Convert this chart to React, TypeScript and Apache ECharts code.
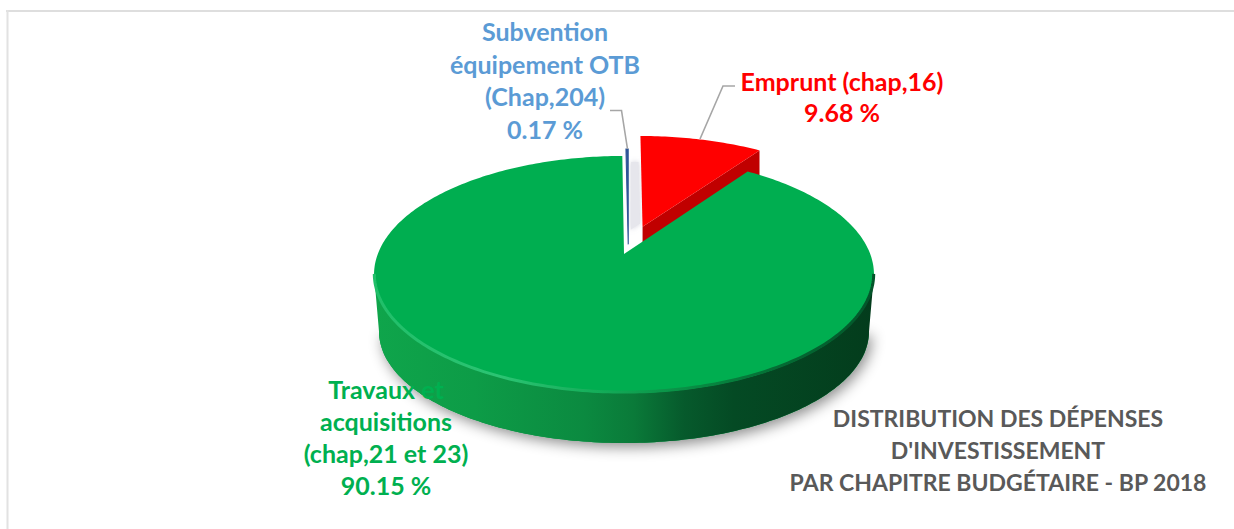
import React, { useEffect, useRef } from "react";
import * as echarts from "echarts";

const categories = ["Emprunt (chap,16)", "Subvention équipement OTB (Chap,204)", "Travaux et acquisitions (chap,21 et 23)"];
const shares = [9.68, 0.17, 90.15];
const sliceOrderClockwise = [2, 1, 0];
const labelTexts = [
  "Emprunt (chap,16)\n9.68 %",
  "Subvention\néquipement OTB\n(Chap,204)\n0.17 %",
  "Travaux et\nacquisitions\n(chap,21 et 23)\n90.15 %",
];
const titleText = "DISTRIBUTION DES DÉPENSES\nD'INVESTISSEMENT\nPAR CHAPITRE BUDGÉTAIRE - BP 2018";

const FONT = "Lato, Carlito, Calibri, sans-serif";
const W = 1234, H = 529;
const X0 = 624, Y0 = 254, K = 0.173, A = 246.2, B = 115;
const START = 35;
const YC = 274.5, BOTTOM_YC = 331.6, BOTTOM_Y = 0.94, BOTTOM_X = 0.98;
const EXPLODE: Record<number, [number, number]> = { 0: [0.0785, 0.248], 1: [0.0175, 0.085], 2: [0, 0] };

const rad = (d: number) => (d * Math.PI) / 180;
function project(u: number, v: number): [number, number] {
  const w = 1 + K * v;
  return [X0 + (A * u) / w, Y0 - (B * v) / w];
}
const lower = (p: [number, number]): [number, number] => [X0 + (p[0] - X0) * BOTTOM_X, BOTTOM_YC + (p[1] - YC) * BOTTOM_Y];
function rim(a0: number, a1: number, off: [number, number]) {
  const out: [number, number][] = [];
  const n = Math.max(2, Math.ceil(Math.abs(a1 - a0)));
  for (let i = 0; i <= n; i++) {
    const t = rad(a0 + ((a1 - a0) * i) / n);
    out.push(project(off[0] + Math.sin(t), off[1] + Math.cos(t)));
  }
  return out;
}
function ranges() {
  const total = shares.reduce((a, b) => a + b, 0);
  const res: Record<number, [number, number]> = {};
  let cur = START;
  sliceOrderClockwise.forEach((i) => {
    const span = (shares[i] / total) * 360;
    res[i] = [cur, cur + span];
    cur += span;
  });
  return res;
}
const poly = (points: [number, number][], style: any, extra: any = {}) => ({ type: "polygon", shape: { points }, style, ...extra });
const hGrad = (stops: [number, string][]) =>
  new echarts.graphic.LinearGradient(0, 0, 1, 0, stops.map(([offset, color]) => ({ offset, color })));

function renderItem(params: any, api: any) {
  const idx = params.dataIndex;
  api.value(0);
  const [a0, a1] = ranges()[idx];
  const off = EXPLODE[idx];
  const apex = project(off[0], off[1]);
  const edge = rim(a0, a1, off);
  const top = [apex, ...edge];
  const children: any[] = [];
  if (idx === 0) {
    const s0 = project(off[0] - 0.045, off[1] + 0.68);
    const s1 = project(off[0] - 0.01, off[1] + 0.68);
    const s2 = project(off[0] - 0.01, off[1] + 0.03);
    const s3 = project(off[0] - 0.05, off[1] - 0.03);
    children.push(poly([s0, s1, s2, s3], { fill: "#e6e6ec", shadowBlur: 5, shadowColor: "rgba(200,200,212,0.8)" }));
    const last = edge[edge.length - 1];
    children.push(poly([apex, last, [last[0], lower(last)[1]], [apex[0], lower(apex)[1]]], { fill: "#c00000" }));
    children.push(poly(top, { fill: "#ff0000" }));
  } else if (idx === 1) {
    children.push(poly(top, { fill: "#2f5597", stroke: "#2f5597", lineWidth: 1.1 }));
  } else {
    const low = rim(100, 260, off).map(lower);
    const sideTop = rim(100, 260, off);
    const side = [...sideTop, ...low.slice().reverse()];
    children.push(
      poly(low, {
        fill: "#0a8a3f",
        shadowBlur: 14,
        shadowOffsetX: 3,
        shadowOffsetY: 4,
        shadowColor: "rgba(0,0,0,0.45)",
      })
    );
    children.push(
      poly(side, {
        fill: hGrad([
          [0, "#0fa54b"],
          [0.2, "#0d9c47"],
          [0.42, "#0b8a40"],
          [0.52, "#0a7a39"],
          [0.62, "#065a2c"],
          [0.72, "#044a24"],
          [1, "#033c1c"],
        ]),
      })
    );
    children.push(poly(top, { fill: "#00ae50" }));
    children.push({
      type: "polyline",
      shape: { points: rim(100, 260, [off[0], off[1] + 0.006]) },
      style: {
        fill: "none",
        lineWidth: 3,
        stroke: hGrad([
          [0, "#20bf69"],
          [0.25, "#2cc473"],
          [0.45, "#14ad59"],
          [0.65, "#078a42"],
          [0.82, "#046a33"],
          [1, "#03552a"],
        ]),
      },
    });
  }
  return { type: "group", children };
}

const makeLabel = (text: string, x: number, y: number, color: string, size = 25, lh = 32.5) => ({
  type: "text",
  x,
  y,
  z: 50,
  style: {
    text,
    fill: color,
    align: "center",
    verticalAlign: "top",
    font: `bold ${size}px ${FONT}`,
    lineHeight: lh,
  },
});
const leader = (points: number[][]) => ({
  type: "polyline",
  z: 40,
  shape: { points },
  style: { stroke: "#a6a6a6", lineWidth: 1.6, fill: "none" },
});

export default function App() {
  const ref = useRef<HTMLDivElement>(null);
  useEffect(() => {
    const chart = echarts.init(ref.current!, undefined, { renderer: "svg" });
    chart.setOption({
      animation: false,
      backgroundColor: "#ffffff",
      series: [
        {
          type: "custom",
          coordinateSystem: "none",
          silent: true,
          renderItem,
          data: categories.map((name, i) => ({ name, value: [shares[i]] })),
        },
      ],
      graphic: [
        { type: "rect", z: 1, shape: { x: 6, y: 10, width: 1228, height: 2 }, style: { fill: "#dedede" } },
        { type: "rect", z: 1, shape: { x: 6.5, y: 10, width: 2, height: 519 }, style: { fill: "#e2e2e2" } },
        leader([[610, 110.5], [621.5, 110.5], [627.5, 149]]),
        leader([[735, 86], [723, 86], [700, 139]]),
        makeLabel(labelTexts[1], 545, 15, "#5b9bd5"),
        makeLabel(labelTexts[0], 842, 65, "#ff0000", 25, 31),
        makeLabel(labelTexts[2], 386, 373, "#00b050", 25, 32),
        makeLabel(titleText, 998, 402, "#595959", 23, 32),
      ],
    });
    return () => chart.dispose();
  }, []);
  return <div ref={ref} style={{ position: "fixed", left: 0, top: 0, width: W, height: H }} />;
}
